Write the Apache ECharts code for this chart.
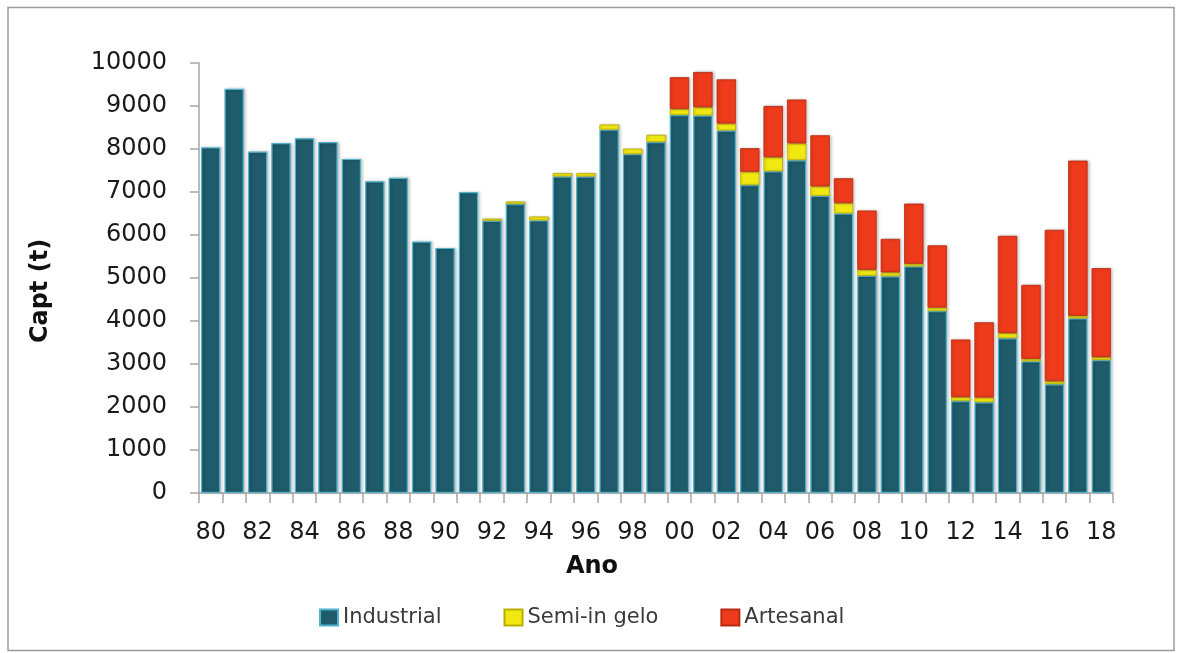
<!DOCTYPE html>
<html>
<head>
<meta charset="utf-8">
<script src="https://cdn.jsdelivr.net/npm/echarts@6/dist/echarts.min.js"></script>
<style>
html,body{margin:0;padding:0;background:#fff;}
#c{width:1177px;height:653px;}
</style>
</head>
<body>
<div id="c"></div>
<script>
var years = ['80','81','82','83','84','85','86','87','88','89','90','91','92','93','94','95','96','97','98','99',
             '00','01','02','03','04','05','06','07','08','09','10','11','12','13','14','15','16','17','18'];
var industrial = [8040,9400,7940,8140,8250,8160,7770,7250,7330,5850,
                  5700,7000,6330,6720,6340,7360,7360,8450,7880,8160,
                  8790,8780,8430,7160,7480,7740,6910,6500,5050,5040,
                  5270,4230,2140,2110,3600,3060,2530,4060,3090];
var semiInGelo = [0,0,0,0,0,0,0,0,0,0,
                  0,0,50,60,90,80,80,120,130,170,
                  140,190,160,310,330,390,220,240,140,90,
                  60,80,90,110,120,60,70,60,70];
var artesanal = [0,0,0,0,0,0,0,0,0,0,
                 0,0,0,0,0,0,0,0,0,0,
                 740,820,1030,550,1190,1020,1190,580,1380,780,
                 1400,1450,1340,1750,2260,1720,3520,3610,2070];
var yTicks = {min:0, max:10000, interval:1000};

function clean(a){ return a.map(function(v){ return v === 0 ? '-' : v; }); }

var chart = echarts.init(document.getElementById('c'));
var axisGray = '#a6a6a6';
chart.setOption({
  animation:false,
  backgroundColor:'#ffffff',
  graphic:[{
    type:'rect', silent:true, z:-10,
    shape:{x:8, y:7.5, width:1166, height:643},
    style:{fill:'none', stroke:'#9c9c9c', lineWidth:1.5}
  }],
  grid:{left:199, right:64, top:63, bottom:160, containLabel:false},
  legend:{
    left:314, top:602, itemWidth:18, itemHeight:16, itemGap:62, icon:'rect',
    textStyle:{fontFamily:'DejaVu Sans', fontSize:21, color:'#3a3a3a'},
    data:['Industrial','Semi-in gelo','Artesanal']
  },
  xAxis:{
    type:'category', data:years,
    name:'Ano', nameLocation:'middle', nameGap:62,
    nameTextStyle:{fontFamily:'DejaVu Sans', fontWeight:'bold', fontSize:24, color:'#111', padding:[0,128,0,0]},
    axisLine:{lineStyle:{color:axisGray, width:1.5}},
    axisTick:{show:true, interval:0, length:10, lineStyle:{color:axisGray, width:1.5}},
    axisLabel:{interval:1, margin:28, fontFamily:'DejaVu Sans', fontSize:24, color:'#1a1a1a'},
    splitLine:{show:false}
  },
  yAxis:{
    type:'value', min:yTicks.min, max:yTicks.max, interval:yTicks.interval,
    name:'Capt (t)', nameLocation:'middle', nameGap:146,
    nameTextStyle:{fontFamily:'DejaVu Sans', fontWeight:'bold', fontSize:24, color:'#111', padding:[0,26,0,0]},
    axisLine:{show:true, lineStyle:{color:axisGray, width:1.5}},
    axisTick:{show:true, length:9, lineStyle:{color:axisGray, width:1.5}},
    axisLabel:{margin:32, fontFamily:'DejaVu Sans', fontSize:24, color:'#1a1a1a',
               formatter:function(v){ return String(v); }},
    splitLine:{show:false}
  },
  series:[
    {name:'Industrial', type:'bar', stack:'t', data:clean(industrial), barCategoryGap:'17%',
     itemStyle:{color:{type:'linear',x:0,y:0,x2:1,y2:0,colorStops:[{offset:0,color:'#2a7388'},{offset:0.12,color:'#1f5b6b'},{offset:0.88,color:'#1f5b6b'},{offset:1,color:'#2a7388'}]},
                borderColor:'#4fb3cc', borderWidth:1.2,
                shadowColor:'rgba(0,0,0,0.25)', shadowBlur:3, shadowOffsetX:1.5, shadowOffsetY:0}},
    {name:'Semi-in gelo', type:'bar', stack:'t', data:clean(semiInGelo),
     itemStyle:{color:'#f2e811', borderColor:'#b8ad00', borderWidth:0.8,
                shadowColor:'rgba(0,0,0,0.2)', shadowBlur:2, shadowOffsetX:1.5}},
    {name:'Artesanal', type:'bar', stack:'t', data:clean(artesanal),
     itemStyle:{color:'#ee3b1b', borderColor:'#b82a12', borderWidth:0.8,
                shadowColor:'rgba(0,0,0,0.25)', shadowBlur:3, shadowOffsetX:1.5}}
  ]
});
</script>
</body>
</html>
